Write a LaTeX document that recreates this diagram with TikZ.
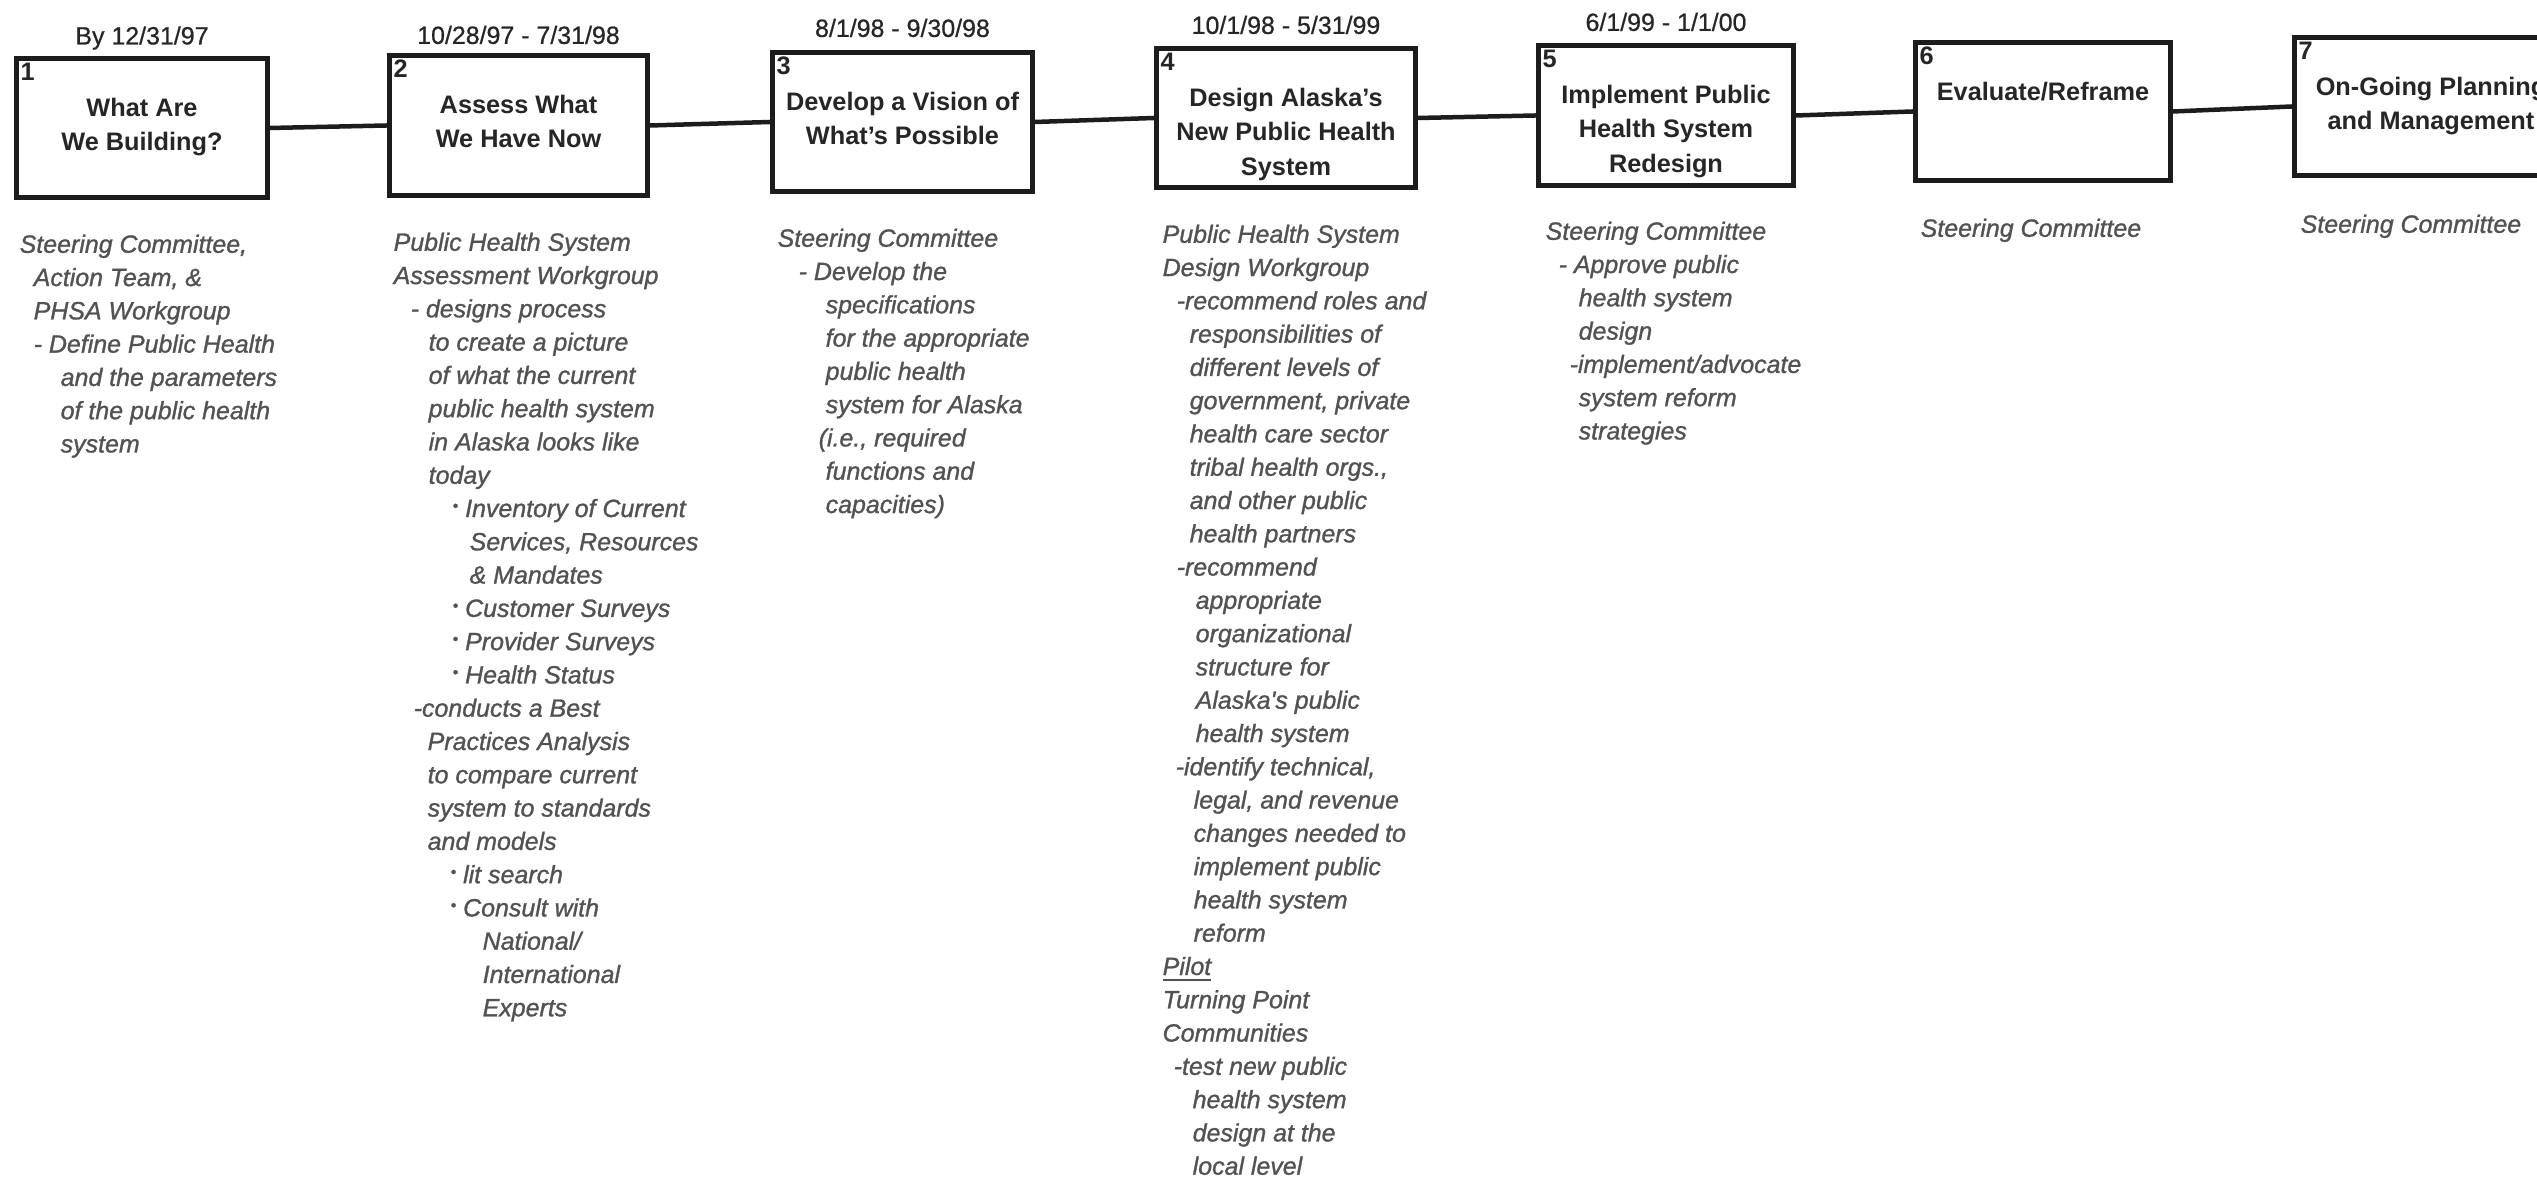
\documentclass[tikz,border=0pt]{standalone}
\usepackage{fontspec}
\setmainfont{Liberation Sans}
\newfontfamily\bodyfont{Liberation Sans}[FakeBold=1.1]
\newfontfamily\datefont{Liberation Sans}[FakeBold=0.7]
\usetikzlibrary{calc}
\definecolor{ink}{HTML}{1C1C1C}
\definecolor{titleink}{HTML}{262626}
\definecolor{bodyink}{HTML}{525252}
\newcommand\ind[1]{\hspace*{#1\dimexpr0.1mm\relax}}
\newcommand\bul{\raisebox{0.45ex}{\fontsize{4.5}{4.5}\selectfont\textbullet}~}
\tikzset{
  stage/.style={draw=ink, line width=0.5mm, inner sep=0pt, anchor=north west},
  conn/.style={draw=ink, line width=0.45mm},
  stitle/.style={text=titleink, font=\fontsize{7.2}{9.9}\selectfont\bfseries, align=center, anchor=north, inner sep=0pt},
  snum/.style={text=titleink, font=\fontsize{7.2}{8}\selectfont\bfseries, anchor=north west, inner sep=0pt},
  sdate/.style={text=titleink, font=\datefont\fontsize{7.1}{8}\selectfont, inner sep=0pt},
  body/.style={text=bodyink, font=\bodyfont\fontsize{7.1}{9.47}\selectfont\itshape, align=left, anchor=north west, inner sep=0pt}
}
\begin{document}
\begin{tikzpicture}[x=0.1mm, y=-0.1mm]
\useasboundingbox (0,0) rectangle (2537,1178);
\clip (0,0) rectangle (2537,1178);
\fill[white] (0,0) rectangle (2537,1178);

% stage boxes
\node[stage, minimum width=25.1mm, minimum height=13.9mm] (b1) at (14,56) {};
\node[stage, minimum width=25.8mm, minimum height=14.0mm] (b2) at (387,53) {};
\node[stage, minimum width=26.0mm, minimum height=13.9mm] (b3) at (770,50) {};
\node[stage, minimum width=25.9mm, minimum height=13.9mm] (b4) at (1154,46) {};
\node[stage, minimum width=25.5mm, minimum height=14.0mm] (b5) at (1536,43) {};
\node[stage, minimum width=25.5mm, minimum height=13.8mm] (b6) at (1913,40) {};
\node[stage, minimum width=27.3mm, minimum height=13.8mm] (b7) at (2292,35) {};

% connectors
\draw[conn] (b1.east) -- (b2.west);
\draw[conn] (b2.east) -- (b3.west);
\draw[conn] (b3.east) -- (b4.west);
\draw[conn] (b4.east) -- (b5.west);
\draw[conn] (b5.east) -- (b6.west);
\draw[conn] (b6.east) -- (b7.west);

% numbers
\node[snum] (n1) at ($(b1.north west)+(6,6)$) {1};
\node[snum] (n2) at ($(b2.north west)+(6,6)$) {2};
\node[snum] (n3) at ($(b3.north west)+(6,6)$) {3};
\node[snum] (n4) at ($(b4.north west)+(6,6)$) {4};
\node[snum] (n5) at ($(b5.north west)+(6,6)$) {5};
\node[snum] (n6) at ($(b6.north west)+(6,6)$) {6};
\node[snum] (n7) at ($(b7.north west)+(6,6)$) {7};

% titles
\node[stitle] (t1) at ($(b1.north)+(0,41)$) {What Are\\We Building?};
\node[stitle] (t2) at ($(b2.north)+(0,41)$) {Assess What\\We Have Now};
\node[stitle] (t3) at ($(b3.north)+(0,41)$) {Develop a Vision of\\What's Possible};
\node[stitle] (t4) at ($(b4.north)+(0,41)$) {Design Alaska's\\New Public Health\\System};
\node[stitle] (t5) at ($(b5.north)+(0,41)$) {Implement Public\\Health System\\Redesign};
\node[stitle] (t6) at ($(b6.north)+(0,41)$) {Evaluate/Reframe};
\node[stitle] (t7) at ($(b7.north)+(0,41)$) {On-Going Planning\\and Management};

% dates
\node[sdate] (d1) at ($(b1.north)+(0,-18)$) {By 12/31/97};
\node[sdate] (d2) at ($(b2.north)+(0,-18)$) {10/28/97 - 7/31/98};
\node[sdate] (d3) at ($(b3.north)+(0,-22)$) {8/1/98 - 9/30/98};
\node[sdate] (d4) at ($(b4.north)+(0,-21)$) {10/1/98 - 5/31/99};
\node[sdate] (d5) at ($(b5.north)+(0,-21)$) {6/1/99 - 1/1/00};

% descriptions
\node[body] (s1) at (19,234) {Steering Committee,\\
\ind{14}Action Team, \&\\
\ind{14}PHSA Workgroup\\
\ind{14}- Define Public Health\\
\ind{41}and the parameters\\
\ind{41}of the public health\\
\ind{41}system};

\node[body] (s2) at (393,232) {Public Health System\\
Assessment Workgroup\\
\ind{17}- designs process\\
\ind{35}to create a picture\\
\ind{35}of what the current\\
\ind{35}public health system\\
\ind{35}in Alaska looks like\\
\ind{35}today\\
\ind{59}\bul Inventory of Current\\
\ind{76}Services, Resources\\
\ind{76}\& Mandates\\
\ind{59}\bul Customer Surveys\\
\ind{59}\bul Provider Surveys\\
\ind{59}\bul Health Status\\
\ind{20}-conducts a Best\\
\ind{34}Practices Analysis\\
\ind{34}to compare current\\
\ind{34}system to standards\\
\ind{34}and models\\
\ind{57}\bul lit search\\
\ind{57}\bul Consult with\\
\ind{89}National/\\
\ind{89}International\\
\ind{89}Experts};

\node[body] (s3) at (777,228) {Steering Committee\\
\ind{21}- Develop the\\
\ind{48}specifications\\
\ind{48}for the appropriate\\
\ind{48}public health\\
\ind{48}system for Alaska\\
\ind{41}(i.e., required\\
\ind{48}functions and\\
\ind{48}capacities)};

\node[body] (s4) at (1162,224) {Public Health System\\
Design Workgroup\\
\ind{14}-recommend roles and\\
\ind{27}responsibilities of\\
\ind{27}different levels of\\
\ind{27}government, private\\
\ind{27}health care sector\\
\ind{27}tribal health orgs.,\\
\ind{27}and other public\\
\ind{27}health partners\\
\ind{14}-recommend\\
\ind{33}appropriate\\
\ind{33}organizational\\
\ind{33}structure for\\
\ind{33}Alaska's public\\
\ind{33}health system\\
\ind{13}-identify technical,\\
\ind{31}legal, and revenue\\
\ind{31}changes needed to\\
\ind{31}implement public\\
\ind{31}health system\\
\ind{31}reform\\
\underline{Pilot}\\
Turning Point\\
Communities\\
\ind{11}-test new public\\
\ind{30}health system\\
\ind{30}design at the\\
\ind{30}local level};

\node[body] (s5) at (1545,221) {Steering Committee\\
\ind{13}- Approve public\\
\ind{33}health system\\
\ind{33}design\\
\ind{24}-implement/advocate\\
\ind{33}system reform\\
\ind{33}strategies};

\node[body] (s6) at (1920,218) {Steering Committee};
\node[body] (s7) at (2300,214) {Steering Committee};
\end{tikzpicture}
\end{document}
